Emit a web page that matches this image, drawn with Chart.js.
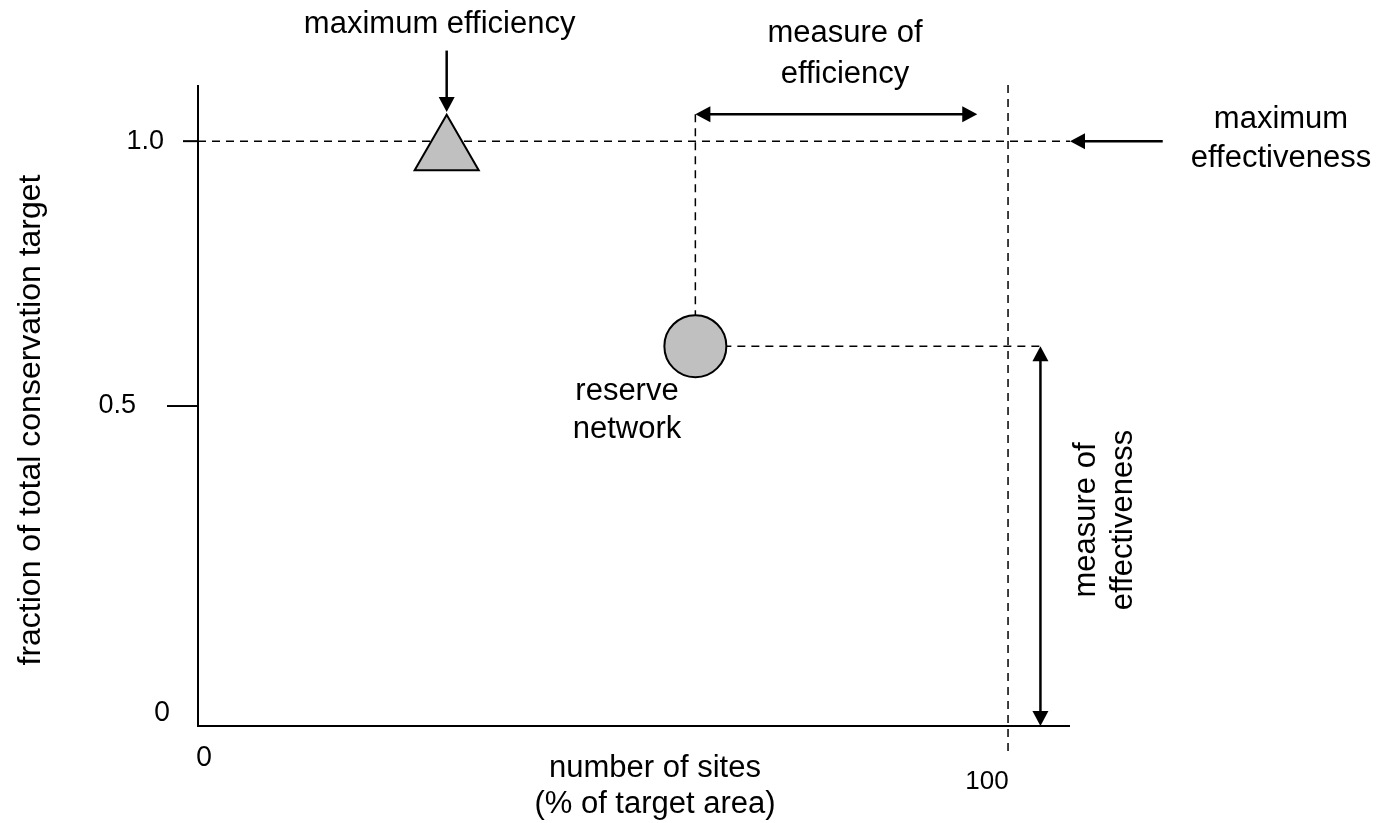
<!DOCTYPE html>
<html>
<head>
<meta charset="utf-8">
<script src="https://cdn.jsdelivr.net/npm/chart.js@4.4.0/dist/chart.umd.min.js"></script>
<style>
  html, body { margin: 0; padding: 0; background: #fff; }
  #wrap { position: relative; width: 1381px; height: 823px; }
</style>
</head>
<body>
<div id="wrap"><canvas id="chart"></canvas></div>
<script>
// values
const siteTicks = [0, 100];
const siteTickLabels = ['0', '100'];
const targetTicks = [0, 0.5, 1.0];
const targetTickLabels = ['0', '0.5', '1.0'];
const markerNames = ['maximum efficiency', 'reserve network'];
const markerSites = [30.7, 61.4];
const markerTargets = [0.98, 0.613];
const efficiencyArrow = [61.4, 96.2];    // x range of the "measure of efficiency" arrow
const efficiencyLevel = 1.051;
const effectivenessSite = 104;           // x of the "measure of effectiveness" arrow

const FONT = '"Liberation Sans", Arial, sans-serif';
const INK = '#000';

function seg(ctx, x1, y1, x2, y2) {
  ctx.beginPath();
  ctx.moveTo(x1, y1);
  ctx.lineTo(x2, y2);
  ctx.stroke();
}

function head(ctx, fx, fy, tx, ty) {
  const a = Math.atan2(ty - fy, tx - fx), L = 15, W = 8;
  ctx.beginPath();
  ctx.moveTo(tx, ty);
  ctx.lineTo(tx - L * Math.cos(a) + W * Math.sin(a), ty - L * Math.sin(a) - W * Math.cos(a));
  ctx.lineTo(tx - L * Math.cos(a) - W * Math.sin(a), ty - L * Math.sin(a) + W * Math.cos(a));
  ctx.closePath();
  ctx.fill();
}

function arrow(ctx, x1, y1, x2, y2, both) {
  const a = Math.atan2(y2 - y1, x2 - x1), s = 7;
  const sx = both ? x1 + s * Math.cos(a) : x1, sy = both ? y1 + s * Math.sin(a) : y1;
  seg(ctx, sx, sy, x2 - s * Math.cos(a), y2 - s * Math.sin(a));
  head(ctx, x1, y1, x2, y2);
  if (both) head(ctx, x2, y2, x1, y1);
}

function label(ctx, str, x, y, opts) {
  opts = opts || {};
  ctx.save();
  ctx.font = opts.font || ('31px ' + FONT);
  ctx.fillStyle = INK;
  ctx.textAlign = opts.align || 'center';
  ctx.textBaseline = opts.baseline || 'alphabetic';
  ctx.translate(x, y);
  if (opts.rotate) ctx.rotate(opts.rotate);
  ctx.fillText(str, 0, 0);
  ctx.restore();
}

const diagram = {
  id: 'diagram',
  beforeDatasetsDraw(chart) {
    const {ctx, chartArea: a, scales: {x, y}} = chart;
    ctx.save();
    ctx.strokeStyle = INK;
    ctx.lineWidth = 1.5;
    ctx.setLineDash([8, 6]);
    const x0 = x.getPixelForValue(0);
    const top = y.getPixelForValue(1);
    seg(ctx, x0, top, a.right, top);
    const x100 = x.getPixelForValue(100);
    seg(ctx, x100, a.top, x100, y.getPixelForValue(-0.155));
    const rx = x.getPixelForValue(markerSites[1]), ry = y.getPixelForValue(markerTargets[1]);
    seg(ctx, rx, ry, rx, y.getPixelForValue(efficiencyLevel));
    seg(ctx, rx, ry, x.getPixelForValue(effectivenessSite), ry);
    ctx.restore();
  },
  afterDatasetsDraw(chart) {
    const {ctx, chartArea: a, scales: {x, y}} = chart;
    const x0 = x.getPixelForValue(0);
    ctx.save();
    ctx.strokeStyle = INK;
    ctx.fillStyle = INK;
    ctx.lineCap = 'butt';

    // axes
    ctx.lineWidth = 2;
    seg(ctx, x0, a.top, x0, a.bottom + 1);
    seg(ctx, x0 - 1, a.bottom, a.right, a.bottom);

    // y ticks
    targetTicks.forEach((v, i) => {
      if (v === 0) {
        label(ctx, targetTickLabels[i], x0 - 36, a.bottom - 13, {font: '26px Lato, "Open Sans", sans-serif', baseline: 'middle'});
        return;
      }
      const py = y.getPixelForValue(v);
      const len = v === 1 ? 15 : 31;
      seg(ctx, x0 - len, py, x0, py);
      label(ctx, targetTickLabels[i], x0 - len - (v === 1 ? 19 : 31), py, {font: '27px ' + FONT, align: 'right', baseline: 'middle'});
    });

    // x tick labels
    siteTicks.forEach((v, i) => {
      if (v === 0) {
        label(ctx, siteTickLabels[i], x0 + 6, a.bottom + 32, {font: '26px Lato, "Open Sans", sans-serif', baseline: 'middle'});
      } else {
        label(ctx, siteTickLabels[i], x.getPixelForValue(v) - 21, a.bottom + 56, {font: '26px ' + FONT, baseline: 'middle'});
      }
    });

    // arrows
    ctx.lineWidth = 2.5;
    const ey = y.getPixelForValue(efficiencyLevel);
    arrow(ctx, x.getPixelForValue(efficiencyArrow[0]), ey, x.getPixelForValue(efficiencyArrow[1]), ey, true);
    const ex = x.getPixelForValue(effectivenessSite);
    arrow(ctx, ex, y.getPixelForValue(markerTargets[1]), ex, a.bottom, true);
    const tx = x.getPixelForValue(markerSites[0]);
    arrow(ctx, tx, y.getPixelForValue(1.171), tx, y.getPixelForValue(1.055), false);
    const my = y.getPixelForValue(1);
    arrow(ctx, x.getPixelForValue(119.1), my, a.right, my, false);

    // annotation text
    label(ctx, markerNames[0], tx - 7, 33);
    label(ctx, 'measure of', 845, 42);
    label(ctx, 'efficiency', 845, 83);
    label(ctx, 'maximum', 1281, 128);
    label(ctx, 'effectiveness', 1281, 167);
    const parts = markerNames[1].split(' ');
    label(ctx, parts[0], 627, 400);
    label(ctx, parts[1], 627, 438);
    label(ctx, 'measure of', 1086, 520, {baseline: 'middle', rotate: -Math.PI / 2});
    label(ctx, 'effectiveness', 1123, 520, {baseline: 'middle', rotate: -Math.PI / 2});
    label(ctx, 'number of sites', 655, 777);
    label(ctx, '(% of target area)', 655, 813);
    label(ctx, 'fraction of total conservation target', 31, 420, {font: '32px ' + FONT, baseline: 'middle', rotate: -Math.PI / 2});
    ctx.restore();
  }
};

new Chart(document.getElementById('chart'), {
  type: 'scatter',
  data: {
    datasets: [
      {
        label: markerNames[0],
        data: [{x: markerSites[0], y: markerTargets[0]}],
        pointStyle: 'triangle',
        pointRadius: 37,
        backgroundColor: '#c0c0c0',
        borderColor: INK,
        borderWidth: 2,
        clip: false
      },
      {
        label: markerNames[1],
        data: [{x: markerSites[1], y: markerTargets[1]}],
        pointStyle: 'circle',
        pointRadius: 31,
        backgroundColor: '#c0c0c0',
        borderColor: INK,
        borderWidth: 2,
        clip: false
      }
    ]
  },
  options: {
    responsive: true,
    maintainAspectRatio: false,
    animation: false,
    events: [],
    layout: {padding: {left: 198, right: 311, top: 85, bottom: 97}},
    scales: {
      x: {type: 'linear', min: 0, max: 107.65, display: false},
      y: {type: 'linear', min: -0.104, max: 1.106, display: false}
    },
    plugins: {
      legend: {display: false},
      tooltip: {enabled: false}
    }
  },
  plugins: [diagram]
});
</script>
</body>
</html>
